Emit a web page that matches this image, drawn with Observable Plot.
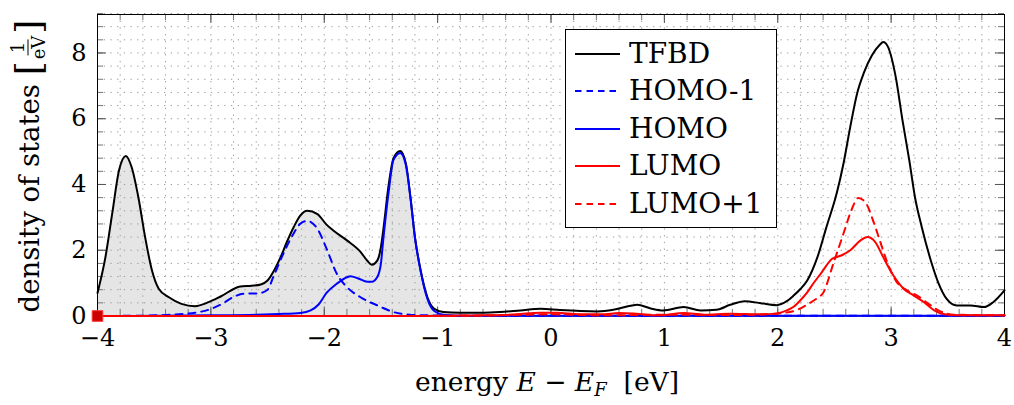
<!DOCTYPE html>
<html>
<head>
<meta charset="utf-8">
<script src="https://cdn.jsdelivr.net/npm/d3@7"></script>
<script src="https://cdn.jsdelivr.net/npm/@observablehq/plot@0.6"></script>
<style>
  body { margin: 0; background: #fff; }
  #wrap { position: relative; width: 1014px; height: 405px; font-family: "DejaVu Serif", "Noto Serif", "Liberation Serif", serif; color: #000; }
  #chart { position: absolute; left: 0; top: 0; }
  #legend { position: absolute; left: 565px; top: 29px; width: 210px; height: 197px; border: 1px solid #000; background: #fff; box-sizing: content-box; }
  #legend .row { position: absolute; left: 0; height: 36px; display: flex; align-items: center; font-size: 28px; line-height: 1; }
  #legend .row svg { margin-left: 9px; margin-right: 9px; }
  #ylabel { position: absolute; left: 28px; top: 166px; transform: translate(-50%, -50%) rotate(-90deg); white-space: nowrap; font-size: 27.5px; display: flex; align-items: center; }
  #ylabel .frac { display: inline-flex; flex-direction: column; align-items: center; font-size: 18px; line-height: 1; margin: 0 2px; }
  #ylabel .frac .num { border-bottom: 1.3px solid #000; padding: 0 2px 1px; }
  #ylabel .frac .den { padding-top: 1px; }
  #ylabel .br { font-size: 36px; font-weight: 300; }
  #xlabel { position: absolute; left: 547px; top: 383px; transform: translate(-50%, -50%); white-space: nowrap; font-size: 26.5px; }
  #xlabel i { font-style: italic; }
  #xlabel sub { font-size: 18px; font-style: italic; vertical-align: -5px; }
</style>
</head>
<body>
<div id="wrap">
  <div id="chart"></div>
  <div id="ylabel"><span>density of states&nbsp;</span><span class="br">[</span><span class="frac"><span class="num">1</span><span class="den">eV</span></span><span class="br">]</span></div>
  <div id="xlabel">energy <i>E</i> − <i>E</i><sub>F</sub> &nbsp;[eV]</div>
  <div id="legend"></div>
</div>
<script>
// Total density of states (TFBD)
const tfbdX = [-4.00,-3.93,-3.87,-3.81,-3.75,-3.70,-3.64,-3.58,-3.52,-3.46,-3.37,-3.26,-3.14,-3.02,-2.91,-2.74,-2.64,-2.56,-2.50,-2.44,-2.39,-2.33,-2.27,-2.21,-2.15,-2.06,-1.98,-1.92,-1.80,-1.68,-1.62,-1.58,-1.53,-1.50,-1.48,-1.43,-1.39,-1.33,-1.28,-1.24,-1.20,-1.15,-1.09,-1.03,-0.95,-0.80,-0.60,-0.45,-0.27,-0.09,0.08,0.26,0.41,0.55,0.70,0.76,0.88,0.99,1.17,1.32,1.46,1.58,1.71,1.85,1.99,2.08,2.14,2.20,2.26,2.35,2.43,2.52,2.58,2.64,2.70,2.76,2.83,2.90,2.93,2.97,3.04,3.10,3.16,3.21,3.27,3.35,3.42,3.49,3.58,3.70,3.82,3.90,4.00];
const tfbdY = [0.70,1.79,3.12,4.43,4.87,4.54,3.62,2.40,1.39,0.83,0.57,0.37,0.30,0.42,0.60,0.90,0.92,0.96,1.08,1.40,1.75,2.25,2.70,3.06,3.20,3.10,2.78,2.60,2.30,1.95,1.68,1.56,1.70,2.10,2.60,4.03,4.79,5.02,4.64,3.62,2.40,1.39,0.57,0.22,0.12,0.10,0.10,0.12,0.17,0.22,0.18,0.15,0.14,0.19,0.31,0.34,0.23,0.17,0.27,0.17,0.19,0.34,0.45,0.39,0.33,0.45,0.62,0.82,1.08,1.79,2.71,3.73,4.64,5.76,6.77,7.40,7.92,8.25,8.33,8.20,7.28,5.96,4.74,3.62,2.71,1.69,0.98,0.52,0.32,0.32,0.27,0.42,0.78];

// HOMO-1
const homo1X = [-4.00,-3.60,-3.40,-3.25,-3.14,-3.02,-2.90,-2.80,-2.71,-2.58,-2.50,-2.45,-2.36,-2.27,-2.21,-2.15,-2.06,-1.98,-1.89,-1.80,-1.68,-1.53,-1.39,-1.25,-1.10,-0.80,4.00];
const homo1Y = [0.00,0.01,0.03,0.06,0.10,0.19,0.37,0.58,0.68,0.69,0.80,1.18,1.90,2.51,2.81,2.89,2.65,2.05,1.29,0.88,0.57,0.32,0.12,0.04,0.02,0.01,0.01];

// HOMO
const homoX = [-4.00,-3.00,-2.60,-2.40,-2.21,-2.12,-2.05,-1.98,-1.89,-1.80,-1.77,-1.70,-1.62,-1.58,-1.53,-1.50,-1.48,-1.43,-1.39,-1.33,-1.28,-1.24,-1.20,-1.15,-1.09,-1.03,-0.95,-0.80,4.00];
const homoY = [0.00,0.02,0.04,0.06,0.09,0.17,0.35,0.70,0.98,1.18,1.21,1.14,1.04,1.04,1.20,1.60,2.30,3.83,4.74,4.96,4.59,3.60,2.38,1.37,0.52,0.15,0.04,0.01,0.01];

// LUMO
const lumoX = [-4.00,-1.20,-0.90,-0.60,-0.30,-0.10,0.05,0.25,0.45,0.60,0.75,0.95,1.17,1.35,1.58,1.85,1.99,2.08,2.14,2.20,2.26,2.32,2.38,2.48,2.56,2.64,2.73,2.79,2.86,2.93,3.02,3.11,3.20,3.29,3.38,3.47,3.60,4.00];
const lumoY = [0.00,0.00,0.01,0.02,0.05,0.10,0.10,0.05,0.05,0.09,0.07,0.02,0.09,0.04,0.07,0.05,0.08,0.17,0.28,0.48,0.72,1.02,1.29,1.74,1.84,2.00,2.30,2.40,2.25,1.79,1.23,0.83,0.62,0.42,0.17,0.05,0.02,0.02];

// LUMO+1
const lumo1X = [-4.00,-1.00,-0.50,0.00,0.50,1.00,1.50,1.90,2.02,2.18,2.26,2.35,2.40,2.49,2.58,2.65,2.71,2.78,2.84,2.90,2.97,3.05,3.14,3.23,3.33,3.43,3.55,4.00];
const lumo1Y = [0.00,0.00,0.02,0.05,0.02,0.04,0.03,0.05,0.08,0.20,0.35,0.55,0.70,1.59,2.51,3.22,3.59,3.42,2.91,2.30,1.59,1.03,0.78,0.62,0.37,0.15,0.04,0.02];

// Marker at the lower-left corner of the plot
const markX = [-4];
const markY = [0];

// Axis ticks
const xTicks = [-4, -3, -2, -1, 0, 1, 2, 3, 4];
const yTicks = [0, 2, 4, 6, 8];
const xMinor = d3.range(-40, 41, 2).map(d => d / 10);
const yMinor = d3.range(0, 93, 4).map(d => d / 10);

const series = [
  {name: "TFBD",   xs: tfbdX,  ys: tfbdY,  color: "#000000", dash: null},
  {name: "HOMO-1", xs: homo1X, ys: homo1Y, color: "#0000ff", dash: "7,6"},
  {name: "HOMO",   xs: homoX,  ys: homoY,  color: "#0000ff", dash: null},
  {name: "LUMO",   xs: lumoX,  ys: lumoY,  color: "#ff0000", dash: null},
  {name: "LUMO+1", xs: lumo1X, ys: lumo1Y, color: "#ff0000", dash: "7,6"}
];
const rowsOf = s => s.xs.map((x, i) => ({x, y: s.ys[i]}));
const fmt = d => (d < 0 ? "\u2212" : "") + Math.abs(d);

const width = 1014, height = 405;
const mL = 97, mR = 10, mT = 14, mB = 89.5;
const FW = width - mL - mR, FH = height - mT - mB;
const major = 9, minor = 6;
const fontStack = "'DejaVu Serif', 'Noto Serif', 'Liberation Serif', serif";

const tfbdRows = rowsOf(series[0]);
const occupied = tfbdRows.filter(d => d.x <= -0.8);

const marks = [
  // shaded occupied states
  Plot.areaY(occupied, {x: "x", y: "y", fill: "#e5e5e5", curve: "monotone-x"}),
  // dotted grid
  Plot.ruleX(xMinor, {stroke: "#9a9a9a", strokeWidth: 1, strokeDasharray: "1.3,5.4"}),
  Plot.ruleY(yMinor, {stroke: "#9a9a9a", strokeWidth: 1, strokeDasharray: "1.3,5.4"}),
  // inner ticks on all four sides
  Plot.tickX(xMinor, {stroke: "#777", insetTop: FH - minor}),
  Plot.tickX(xMinor, {stroke: "#777", insetBottom: FH - minor}),
  Plot.tickX(xTicks, {stroke: "#555", insetTop: FH - major}),
  Plot.tickX(xTicks, {stroke: "#555", insetBottom: FH - major}),
  Plot.tickY(yMinor, {stroke: "#777", insetRight: FW - minor}),
  Plot.tickY(yMinor, {stroke: "#777", insetLeft: FW - minor}),
  Plot.tickY(yTicks, {stroke: "#555", insetRight: FW - major}),
  Plot.tickY(yTicks, {stroke: "#555", insetLeft: FW - major}),
  Plot.frame({stroke: "#000", strokeWidth: 1}),
  Plot.axisX(xTicks, {anchor: "bottom", tickSize: 0, tickPadding: 13, fontSize: 24, fontFamily: fontStack, tickFormat: fmt, label: null}),
  Plot.axisY(yTicks, {anchor: "left", tickSize: 0, tickPadding: 11, fontSize: 24, fontFamily: fontStack, tickFormat: fmt, label: null}),
  ...series.map(s => Plot.line(rowsOf(s), {
    x: "x", y: "y", stroke: s.color, strokeWidth: 2,
    strokeDasharray: s.dash, curve: "monotone-x"
  })),
  Plot.dot(markX.map((x, i) => ({x, y: markY[i]})), {
    x: "x", y: "y", symbol: "square", r: 6, fill: "#cc0000", stroke: "#ff3a3a", strokeWidth: 1
  })
];

const chart = Plot.plot({
  width, height,
  marginLeft: mL, marginRight: mR, marginTop: mT, marginBottom: mB,
  x: {domain: [-4, 4]},
  y: {domain: [0, 9.17]},
  style: {fontFamily: fontStack, fontSize: "24px", color: "#000", background: "transparent", overflow: "visible"},
  marks
});
document.getElementById("chart").appendChild(chart);

// legend
const legend = document.getElementById("legend");
series.forEach((s, i) => {
  const row = document.createElement("div");
  row.className = "row";
  row.style.top = (6 + i * 37.4) + "px";
  const svg = d3.create("svg").attr("width", 45).attr("height", 6);
  svg.append("line")
    .attr("x1", 0).attr("x2", 45).attr("y1", 3).attr("y2", 3)
    .attr("stroke", s.color).attr("stroke-width", 2)
    .attr("stroke-dasharray", s.dash ? "6.5,5" : null);
  row.appendChild(svg.node());
  const label = document.createElement("span");
  label.textContent = s.name;
  row.appendChild(label);
  legend.appendChild(row);
});
</script>
</body>
</html>
